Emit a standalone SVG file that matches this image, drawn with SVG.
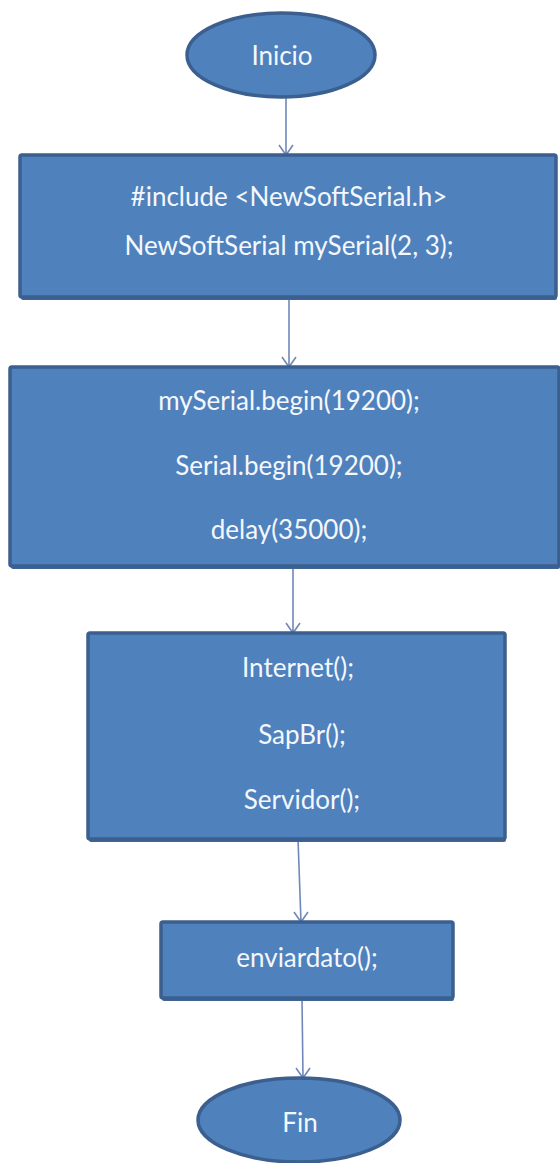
<svg xmlns="http://www.w3.org/2000/svg" width="560" height="1163" viewBox="0 0 560 1163">
<defs>
<style>
.shape{fill:#4f81bd;stroke:#3b5f8e;stroke-width:3.5}
.shadow{fill:#3f6594}
.t{font-family:Lato,"Open Sans",sans-serif;font-size:26px;fill:#f4f7fc;text-anchor:middle}
.c{fill:none;stroke:#7088b8;stroke-width:1.6}
</style>
</defs>
<rect width="560" height="1163" fill="#ffffff"/>
<g id="connectors">
<path class="c" d="M286,97 L286,155 M279,145 L286,155 L293,145"/>
<path class="c" d="M289,297 L289,367 M282,357 L289,367 L296,357"/>
<path class="c" d="M293,566 L293,633 M286,623 L293,633 L300,623"/>
<path class="c" d="M298,839 L301,922 M294,912 L301,922 L308,912"/>
<path class="c" d="M302,998 L303,1078 M296,1068 L303,1078 L310,1068"/>
</g>
<g id="inicio">
<ellipse class="shape" cx="281" cy="55" rx="94" ry="42"/>
<text class="t" x="282" y="65">Inicio</text>
</g>
<g id="include">
<rect class="shadow" x="21" y="158" width="536" height="142" rx="2"/>
<rect class="shape" x="20" y="155" width="536" height="142" rx="2"/>
<text class="t" x="289" y="206">#include &lt;NewSoftSerial.h&gt;</text>
<text class="t" x="289" y="255">NewSoftSerial mySerial(2, 3);</text>
</g>
<g id="setup">
<rect class="shadow" x="11" y="370" width="549" height="199" rx="2"/>
<rect class="shape" x="10" y="367" width="549" height="199" rx="2"/>
<text class="t" x="289" y="410">mySerial.begin(19200);</text>
<text class="t" x="289" y="475">Serial.begin(19200);</text>
<text class="t" x="289" y="539">delay(35000);</text>
</g>
<g id="funciones">
<rect class="shadow" x="89" y="636" width="417" height="206" rx="2"/>
<rect class="shape" x="88" y="633" width="417" height="206" rx="2"/>
<text class="t" x="298" y="677">Internet();</text>
<text class="t" x="302" y="744">SapBr();</text>
<text class="t" x="302" y="809">Servidor();</text>
</g>
<g id="enviar">
<rect class="shadow" x="162" y="925" width="292" height="76" rx="2"/>
<rect class="shape" x="161" y="922" width="292" height="76" rx="2"/>
<text class="t" x="307" y="967">enviardato();</text>
</g>
<g id="fin">
<ellipse class="shape" cx="299" cy="1120" rx="101" ry="42"/>
<text class="t" x="300" y="1132">Fin</text>
</g>
</svg>
